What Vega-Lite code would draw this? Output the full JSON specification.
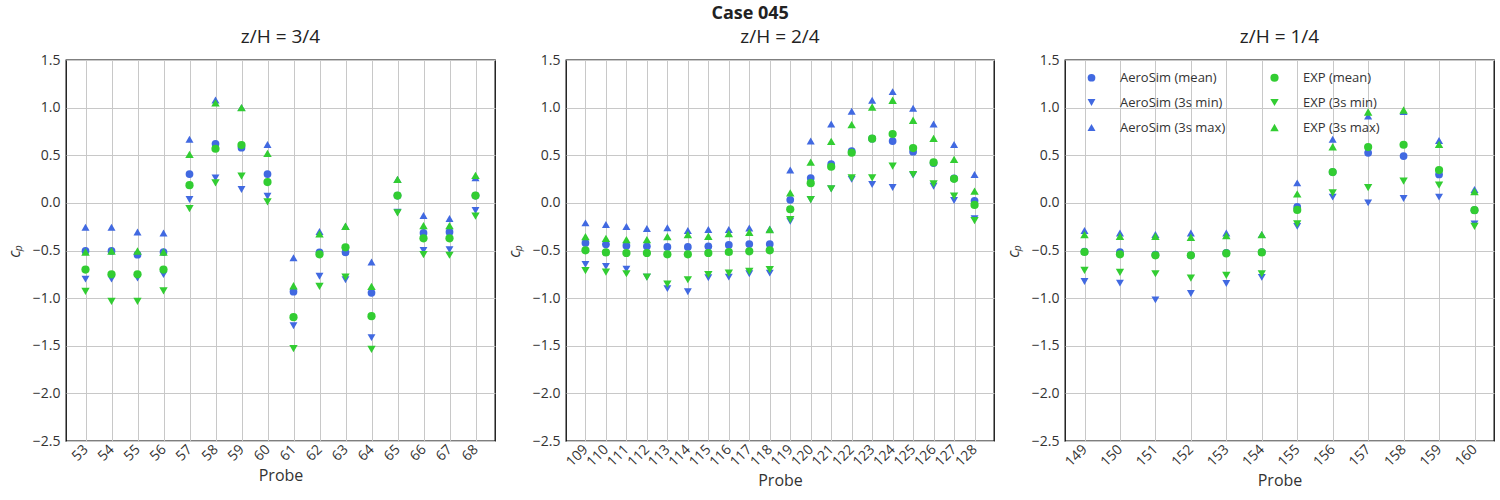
{
  "$schema": "https://vega.github.io/schema/vega-lite/v6.json",
  "background": "white",
  "padding": {"left": 5, "top": 5, "right": 3, "bottom": 5},
  "bounds": "flush",
  "spacing": 71,
  "resolve": {"scale": {"color": "independent", "shape": "independent", "size": "independent"}, "legend": {"color": "independent", "shape": "independent", "size": "independent"}},
  "title": {"text": "Case 045", "anchor": "middle", "fontSize": 18, "fontWeight": "bold", "font": "Open Sans", "color": "#222222", "offset": 4},
  "config": {
    "font": "Open Sans",
    "view": {"stroke": "black", "strokeWidth": 1.3},
    "axis": {"grid": true, "gridColor": "#c8c8c8", "gridWidth": 1, "ticks": false, "domain": false, "labelFontSize": 14, "labelColor": "#333333", "titleFontSize": 16, "titleColor": "#333333", "titleFontWeight": "normal", "labelPadding": 6},
    "title": {"fontSize": 19, "fontWeight": "normal", "font": "Open Sans", "color": "#222222", "offset": 6}
  },
  "data": {"values": [
    {"panel": 1, "probe": "53", "AeroSim (mean)": -0.505, "AeroSim (3s min)": -0.80, "AeroSim (3s max)": -0.256, "EXP (mean)": -0.70, "EXP (3s min)": -0.93, "EXP (3s max)": -0.516},
    {"panel": 1, "probe": "54", "AeroSim (mean)": -0.505, "AeroSim (3s min)": -0.80, "AeroSim (3s max)": -0.256, "EXP (mean)": -0.75, "EXP (3s min)": -1.035, "EXP (3s max)": -0.505},
    {"panel": 1, "probe": "55", "AeroSim (mean)": -0.544, "AeroSim (3s min)": -0.79, "AeroSim (3s max)": -0.305, "EXP (mean)": -0.75, "EXP (3s min)": -1.035, "EXP (3s max)": -0.505},
    {"panel": 1, "probe": "56", "AeroSim (mean)": -0.516, "AeroSim (3s min)": -0.754, "AeroSim (3s max)": -0.316, "EXP (mean)": -0.70, "EXP (3s min)": -0.923, "EXP (3s max)": -0.516},
    {"panel": 1, "probe": "57", "AeroSim (mean)": 0.302, "AeroSim (3s min)": 0.035, "AeroSim (3s max)": 0.667, "EXP (mean)": 0.186, "EXP (3s min)": -0.06, "EXP (3s max)": 0.509},
    {"panel": 1, "probe": "58", "AeroSim (mean)": 0.62, "AeroSim (3s min)": 0.263, "AeroSim (3s max)": 1.08, "EXP (mean)": 0.568, "EXP (3s min)": 0.21, "EXP (3s max)": 1.05},
    {"panel": 1, "probe": "59", "AeroSim (mean)": 0.58, "AeroSim (3s min)": 0.14, "AeroSim (3s max)": 1.0, "EXP (mean)": 0.607, "EXP (3s min)": 0.28, "EXP (3s max)": 1.0},
    {"panel": 1, "probe": "60", "AeroSim (mean)": 0.302, "AeroSim (3s min)": 0.07, "AeroSim (3s max)": 0.614, "EXP (mean)": 0.218, "EXP (3s min)": 0.01, "EXP (3s max)": 0.52},
    {"panel": 1, "probe": "61", "AeroSim (mean)": -0.933, "AeroSim (3s min)": -1.29, "AeroSim (3s max)": -0.575, "EXP (mean)": -1.20, "EXP (3s min)": -1.53, "EXP (3s max)": -0.87},
    {"panel": 1, "probe": "62", "AeroSim (mean)": -0.52, "AeroSim (3s min)": -0.77, "AeroSim (3s max)": -0.30, "EXP (mean)": -0.54, "EXP (3s min)": -0.877, "EXP (3s max)": -0.326},
    {"panel": 1, "probe": "63", "AeroSim (mean)": -0.52, "AeroSim (3s min)": -0.807, "AeroSim (3s max)": -0.245, "EXP (mean)": -0.467, "EXP (3s min)": -0.78, "EXP (3s max)": -0.245},
    {"panel": 1, "probe": "64", "AeroSim (mean)": -0.944, "AeroSim (3s min)": -1.414, "AeroSim (3s max)": -0.62, "EXP (mean)": -1.19, "EXP (3s min)": -1.537, "EXP (3s max)": -0.877},
    {"panel": 1, "probe": "65", "AeroSim (mean)": 0.077, "AeroSim (3s min)": -0.098, "AeroSim (3s max)": 0.246, "EXP (mean)": 0.077, "EXP (3s min)": -0.105, "EXP (3s max)": 0.246},
    {"panel": 1, "probe": "66", "AeroSim (mean)": -0.316, "AeroSim (3s min)": -0.498, "AeroSim (3s max)": -0.133, "EXP (mean)": -0.372, "EXP (3s min)": -0.544, "EXP (3s max)": -0.239},
    {"panel": 1, "probe": "67", "AeroSim (mean)": -0.305, "AeroSim (3s min)": -0.49, "AeroSim (3s max)": -0.165, "EXP (mean)": -0.372, "EXP (3s min)": -0.55, "EXP (3s max)": -0.239},
    {"panel": 1, "probe": "68", "AeroSim (mean)": 0.077, "AeroSim (3s min)": -0.08, "AeroSim (3s max)": 0.263, "EXP (mean)": 0.077, "EXP (3s min)": -0.14, "EXP (3s max)": 0.288},
    {"panel": 2, "probe": "109", "AeroSim (mean)": -0.42, "AeroSim (3s min)": -0.646, "AeroSim (3s max)": -0.21, "EXP (mean)": -0.498, "EXP (3s min)": -0.712, "EXP (3s max)": -0.354},
    {"panel": 2, "probe": "110", "AeroSim (mean)": -0.435, "AeroSim (3s min)": -0.667, "AeroSim (3s max)": -0.228, "EXP (mean)": -0.52, "EXP (3s min)": -0.726, "EXP (3s max)": -0.372},
    {"panel": 2, "probe": "111", "AeroSim (mean)": -0.449, "AeroSim (3s min)": -0.695, "AeroSim (3s max)": -0.249, "EXP (mean)": -0.526, "EXP (3s min)": -0.744, "EXP (3s max)": -0.386},
    {"panel": 2, "probe": "112", "AeroSim (mean)": -0.456, "AeroSim (3s min)": -0.78, "AeroSim (3s max)": -0.27, "EXP (mean)": -0.526, "EXP (3s min)": -0.78, "EXP (3s max)": -0.386},
    {"panel": 2, "probe": "113", "AeroSim (mean)": -0.463, "AeroSim (3s min)": -0.90, "AeroSim (3s max)": -0.26, "EXP (mean)": -0.54, "EXP (3s min)": -0.853, "EXP (3s max)": -0.354},
    {"panel": 2, "probe": "114", "AeroSim (mean)": -0.463, "AeroSim (3s min)": -0.933, "AeroSim (3s max)": -0.29, "EXP (mean)": -0.54, "EXP (3s min)": -0.807, "EXP (3s max)": -0.333},
    {"panel": 2, "probe": "115", "AeroSim (mean)": -0.456, "AeroSim (3s min)": -0.786, "AeroSim (3s max)": -0.28, "EXP (mean)": -0.526, "EXP (3s min)": -0.754, "EXP (3s max)": -0.35},
    {"panel": 2, "probe": "116", "AeroSim (mean)": -0.442, "AeroSim (3s min)": -0.78, "AeroSim (3s max)": -0.28, "EXP (mean)": -0.516, "EXP (3s min)": -0.737, "EXP (3s max)": -0.323},
    {"panel": 2, "probe": "117", "AeroSim (mean)": -0.432, "AeroSim (3s min)": -0.744, "AeroSim (3s max)": -0.263, "EXP (mean)": -0.509, "EXP (3s min)": -0.72, "EXP (3s max)": -0.309},
    {"panel": 2, "probe": "118", "AeroSim (mean)": -0.432, "AeroSim (3s min)": -0.737, "AeroSim (3s max)": -0.274, "EXP (mean)": -0.498, "EXP (3s min)": -0.70, "EXP (3s max)": -0.28},
    {"panel": 2, "probe": "119", "AeroSim (mean)": 0.032, "AeroSim (3s min)": -0.193, "AeroSim (3s max)": 0.344, "EXP (mean)": -0.067, "EXP (3s min)": -0.175, "EXP (3s max)": 0.105},
    {"panel": 2, "probe": "120", "AeroSim (mean)": 0.26, "AeroSim (3s min)": 0.035, "AeroSim (3s max)": 0.649, "EXP (mean)": 0.207, "EXP (3s min)": 0.035, "EXP (3s max)": 0.428},
    {"panel": 2, "probe": "121", "AeroSim (mean)": 0.407, "AeroSim (3s min)": 0.147, "AeroSim (3s max)": 0.828, "EXP (mean)": 0.379, "EXP (3s min)": 0.147, "EXP (3s max)": 0.646},
    {"panel": 2, "probe": "122", "AeroSim (mean)": 0.544, "AeroSim (3s min)": 0.246, "AeroSim (3s max)": 0.961, "EXP (mean)": 0.526, "EXP (3s min)": 0.263, "EXP (3s max)": 0.821},
    {"panel": 2, "probe": "123", "AeroSim (mean)": 0.674, "AeroSim (3s min)": 0.193, "AeroSim (3s max)": 1.077, "EXP (mean)": 0.674, "EXP (3s min)": 0.263, "EXP (3s max)": 1.007},
    {"panel": 2, "probe": "124", "AeroSim (mean)": 0.649, "AeroSim (3s min)": 0.161, "AeroSim (3s max)": 1.168, "EXP (mean)": 0.723, "EXP (3s min)": 0.386, "EXP (3s max)": 1.077},
    {"panel": 2, "probe": "125", "AeroSim (mean)": 0.537, "AeroSim (3s min)": 0.291, "AeroSim (3s max)": 0.993, "EXP (mean)": 0.575, "EXP (3s min)": 0.298, "EXP (3s max)": 0.867},
    {"panel": 2, "probe": "126", "AeroSim (mean)": 0.418, "AeroSim (3s min)": 0.175, "AeroSim (3s max)": 0.828, "EXP (mean)": 0.425, "EXP (3s min)": 0.2, "EXP (3s max)": 0.677},
    {"panel": 2, "probe": "127", "AeroSim (mean)": 0.256, "AeroSim (3s min)": 0.025, "AeroSim (3s max)": 0.614, "EXP (mean)": 0.253, "EXP (3s min)": 0.07, "EXP (3s max)": 0.456},
    {"panel": 2, "probe": "128", "AeroSim (mean)": 0.021, "AeroSim (3s min)": -0.165, "AeroSim (3s max)": 0.298, "EXP (mean)": -0.021, "EXP (3s min)": -0.186, "EXP (3s max)": 0.123},
    {"panel": 3, "probe": "149", "AeroSim (mean)": -0.512, "AeroSim (3s min)": -0.825, "AeroSim (3s max)": -0.29, "EXP (mean)": -0.516, "EXP (3s min)": -0.709, "EXP (3s max)": -0.333},
    {"panel": 3, "probe": "150", "AeroSim (mean)": -0.516, "AeroSim (3s min)": -0.842, "AeroSim (3s max)": -0.316, "EXP (mean)": -0.54, "EXP (3s min)": -0.73, "EXP (3s max)": -0.35},
    {"panel": 3, "probe": "151", "AeroSim (mean)": -0.544, "AeroSim (3s min)": -1.018, "AeroSim (3s max)": -0.333, "EXP (mean)": -0.551, "EXP (3s min)": -0.744, "EXP (3s max)": -0.35},
    {"panel": 3, "probe": "152", "AeroSim (mean)": -0.551, "AeroSim (3s min)": -0.951, "AeroSim (3s max)": -0.316, "EXP (mean)": -0.551, "EXP (3s min)": -0.79, "EXP (3s max)": -0.361},
    {"panel": 3, "probe": "153", "AeroSim (mean)": -0.526, "AeroSim (3s min)": -0.846, "AeroSim (3s max)": -0.316, "EXP (mean)": -0.53, "EXP (3s min)": -0.761, "EXP (3s max)": -0.344},
    {"panel": 3, "probe": "154", "AeroSim (mean)": -0.516, "AeroSim (3s min)": -0.782, "AeroSim (3s max)": -0.333, "EXP (mean)": -0.52, "EXP (3s min)": -0.744, "EXP (3s max)": -0.333},
    {"panel": 3, "probe": "155", "AeroSim (mean)": -0.042, "AeroSim (3s min)": -0.246, "AeroSim (3s max)": 0.21, "EXP (mean)": -0.074, "EXP (3s min)": -0.221, "EXP (3s max)": 0.095},
    {"panel": 3, "probe": "156", "AeroSim (mean)": 0.323, "AeroSim (3s min)": 0.06, "AeroSim (3s max)": 0.667, "EXP (mean)": 0.323, "EXP (3s min)": 0.105, "EXP (3s max)": 0.589},
    {"panel": 3, "probe": "157", "AeroSim (mean)": 0.526, "AeroSim (3s min)": 0.0, "AeroSim (3s max)": 0.912, "EXP (mean)": 0.586, "EXP (3s min)": 0.161, "EXP (3s max)": 0.954},
    {"panel": 3, "probe": "158", "AeroSim (mean)": 0.491, "AeroSim (3s min)": 0.046, "AeroSim (3s max)": 0.958, "EXP (mean)": 0.61, "EXP (3s min)": 0.228, "EXP (3s max)": 0.975},
    {"panel": 3, "probe": "159", "AeroSim (mean)": 0.298, "AeroSim (3s min)": 0.06, "AeroSim (3s max)": 0.656, "EXP (mean)": 0.344, "EXP (3s min)": 0.186, "EXP (3s max)": 0.614},
    {"panel": 3, "probe": "160", "AeroSim (mean)": -0.077, "AeroSim (3s min)": -0.221, "AeroSim (3s max)": 0.14, "EXP (mean)": -0.077, "EXP (3s min)": -0.246, "EXP (3s max)": 0.119}
  ]},
  "transform": [
    {"fold": ["AeroSim (mean)", "AeroSim (3s min)", "AeroSim (3s max)", "EXP (mean)", "EXP (3s min)", "EXP (3s max)"], "as": ["series", "cp"]}
  ],
  "hconcat": [
    {
      "width": 429, "height": 381,
      "title": "z/H = 3/4",
      "transform": [{"filter": "datum.panel == 1"}],
      "mark": {"type": "point", "filled": true, "opacity": 1},
      "encoding": {
        "x": {"field": "probe", "type": "ordinal", "scale": {"type": "point", "padding": 0.75}, "axis": {"title": "Probe", "labelAngle": -45, "labelAlign": "right", "labelBaseline": "middle"}},
        "y": {"field": "cp", "type": "quantitative", "scale": {"domain": [-2.5, 1.5], "nice": false, "zero": false}, "axis": {"title": "cₚ", "titleFontStyle": "italic", "values": [-2.5, -2, -1.5, -1, -0.5, 0, 0.5, 1, 1.5], "format": ".1f", "titlePadding": 10}},
        "color": {"field": "series", "type": "nominal", "scale": {"domain": ["AeroSim (mean)", "AeroSim (3s min)", "AeroSim (3s max)", "EXP (mean)", "EXP (3s min)", "EXP (3s max)"], "range": ["#4169e1", "#4169e1", "#4169e1", "#32cd32", "#32cd32", "#32cd32"]}, "legend": null},
        "shape": {"field": "series", "type": "nominal", "scale": {"domain": ["AeroSim (mean)", "AeroSim (3s min)", "AeroSim (3s max)", "EXP (mean)", "EXP (3s min)", "EXP (3s max)"], "range": ["circle", "triangle-down", "triangle-up", "circle", "triangle-down", "triangle-up"]}, "legend": null},
        "size": {"field": "series", "type": "nominal", "scale": {"domain": ["AeroSim (mean)", "AeroSim (3s min)", "AeroSim (3s max)", "EXP (mean)", "EXP (3s min)", "EXP (3s max)"], "range": [60, 72, 72, 60, 72, 72]}, "legend": null}
      }
    },
    {
      "width": 428, "height": 381,
      "title": "z/H = 2/4",
      "transform": [{"filter": "datum.panel == 2"}],
      "mark": {"type": "point", "filled": true, "opacity": 1},
      "encoding": {
        "x": {"field": "probe", "type": "ordinal", "scale": {"type": "point", "padding": 0.95}, "axis": {"title": "Probe", "labelAngle": -45, "labelAlign": "right", "labelBaseline": "middle"}},
        "y": {"field": "cp", "type": "quantitative", "scale": {"domain": [-2.5, 1.5], "nice": false, "zero": false}, "axis": {"title": "cₚ", "titleFontStyle": "italic", "values": [-2.5, -2, -1.5, -1, -0.5, 0, 0.5, 1, 1.5], "format": ".1f", "titlePadding": 10}},
        "color": {"field": "series", "type": "nominal", "scale": {"domain": ["AeroSim (mean)", "AeroSim (3s min)", "AeroSim (3s max)", "EXP (mean)", "EXP (3s min)", "EXP (3s max)"], "range": ["#4169e1", "#4169e1", "#4169e1", "#32cd32", "#32cd32", "#32cd32"]}, "legend": null},
        "shape": {"field": "series", "type": "nominal", "scale": {"domain": ["AeroSim (mean)", "AeroSim (3s min)", "AeroSim (3s max)", "EXP (mean)", "EXP (3s min)", "EXP (3s max)"], "range": ["circle", "triangle-down", "triangle-up", "circle", "triangle-down", "triangle-up"]}, "legend": null},
        "size": {"field": "series", "type": "nominal", "scale": {"domain": ["AeroSim (mean)", "AeroSim (3s min)", "AeroSim (3s max)", "EXP (mean)", "EXP (3s min)", "EXP (3s max)"], "range": [60, 72, 72, 60, 72, 72]}, "legend": null}
      }
    },
    {
      "width": 429, "height": 381,
      "title": "z/H = 1/4",
      "transform": [{"filter": "datum.panel == 3"}],
      "mark": {"type": "point", "filled": true, "opacity": 1},
      "encoding": {
        "x": {"field": "probe", "type": "ordinal", "scale": {"type": "point", "padding": 0.55}, "axis": {"title": "Probe", "labelAngle": -45, "labelAlign": "right", "labelBaseline": "middle"}},
        "y": {"field": "cp", "type": "quantitative", "scale": {"domain": [-2.5, 1.5], "nice": false, "zero": false}, "axis": {"title": "cₚ", "titleFontStyle": "italic", "values": [-2.5, -2, -1.5, -1, -0.5, 0, 0.5, 1, 1.5], "format": ".1f", "titlePadding": 10}},
        "color": {"field": "series", "type": "nominal", "scale": {"domain": ["AeroSim (mean)", "AeroSim (3s min)", "AeroSim (3s max)", "EXP (mean)", "EXP (3s min)", "EXP (3s max)"], "range": ["#4169e1", "#4169e1", "#4169e1", "#32cd32", "#32cd32", "#32cd32"]}, "legend": {"title": null, "orient": "none", "legendX": 18, "legendY": 9, "columns": 2, "columnPadding": 42, "rowPadding": 11, "labelFontSize": 13, "labelColor": "#333333", "labelOffset": 22, "padding": 2}},
        "shape": {"field": "series", "type": "nominal", "scale": {"domain": ["AeroSim (mean)", "AeroSim (3s min)", "AeroSim (3s max)", "EXP (mean)", "EXP (3s min)", "EXP (3s max)"], "range": ["circle", "triangle-down", "triangle-up", "circle", "triangle-down", "triangle-up"]}},
        "size": {"field": "series", "type": "nominal", "scale": {"domain": ["AeroSim (mean)", "AeroSim (3s min)", "AeroSim (3s max)", "EXP (mean)", "EXP (3s min)", "EXP (3s max)"], "range": [60, 72, 72, 60, 72, 72]}}
      }
    }
  ]
}
